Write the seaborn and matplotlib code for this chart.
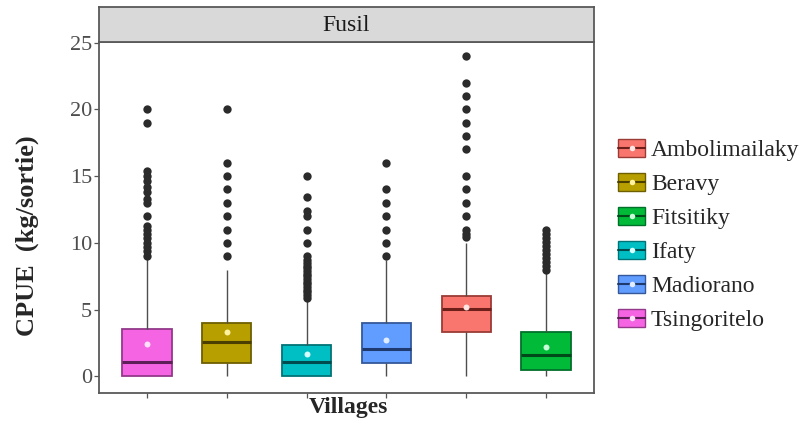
import pandas as pd
import matplotlib.pyplot as plt
import seaborn as sns
from matplotlib.patches import Patch
from matplotlib.lines import Line2D

# Data
villages = ['Tsingoritelo', 'Beravy', 'Ifaty', 'Madiorano', 'Ambolimailaky', 'Fitsitiky']
legend_order = ['Ambolimailaky', 'Beravy', 'Fitsitiky', 'Ifaty', 'Madiorano', 'Tsingoritelo']

# box summaries: lower whisker, Q1, median, Q3, upper whisker
whisk_low = [0, 0, 0, 0, 0, 0]
q1 = [0, 1.0, 0, 1.0, 3.3, 0.5]
median = [1.05, 2.6, 1.1, 2.05, 5.05, 1.63]
q3 = [3.55, 4.0, 2.35, 4.0, 6.0, 3.3]
whisk_high = [8.8, 8.0, 5.8, 8.7, 10.0, 7.8]
means = [2.4, 3.35, 1.7, 2.7, 5.2, 2.2]

out_tsingoritelo = [20, 19, 15.4, 15.0, 14.6, 14.2, 13.8, 13.3, 13.0, 12.0, 11.3, 11.0,
                    10.7, 10.4, 10.0, 9.7, 9.4, 9.0]
out_beravy = [20, 16, 15, 14, 13, 12, 11, 10, 9]
out_ifaty = [15, 13.4, 12.4, 12.0, 11, 10, 9.0, 8.7, 8.5, 8.3, 8.1, 7.9, 7.7, 7.5, 7.3,
             7.1, 6.9, 6.7, 6.5, 6.3, 6.1, 5.9]
out_madiorano = [16, 14, 13, 12, 11, 10, 9]
out_ambolimailaky = [24, 22, 21, 20, 19, 18, 17, 15, 14, 13, 12, 11, 10.7, 10.45]
out_fitsitiky = [11.0, 10.7, 10.4, 10.1, 9.8, 9.5, 9.2, 8.9, 8.6, 8.3, 8.0]

fills = {'Ambolimailaky': '#F8766D', 'Beravy': '#B79F00', 'Fitsitiky': '#00BA38',
         'Ifaty': '#00BFC4', 'Madiorano': '#619CFF', 'Tsingoritelo': '#F564E3'}
edges = {'Ambolimailaky': '#9A3B35', 'Beravy': '#6E5F00', 'Fitsitiky': '#00702A',
         'Ifaty': '#007376', 'Madiorano': '#34589A', 'Tsingoritelo': '#93388A'}
medians_c = {'Ambolimailaky': '#6E1F1A', 'Beravy': '#4A3F00', 'Fitsitiky': '#004A1A',
             'Ifaty': '#004B4D', 'Madiorano': '#1E3A6E', 'Tsingoritelo': '#5E1F58'}
mean_c = {'Ambolimailaky': '#FFE6E2', 'Beravy': '#FFF3A0', 'Fitsitiky': '#C8FFD8',
          'Ifaty': '#D6FFFF', 'Madiorano': '#E0ECFF', 'Tsingoritelo': '#FFE0FA'}

rows = []
for i, v in enumerate(villages):
    for val in [whisk_low[i], q1[i], median[i], q3[i], whisk_high[i]]:
        rows.append({'village': v, 'cpue': val})
box_df = pd.DataFrame(rows)

outs = [out_tsingoritelo, out_beravy, out_ifaty, out_madiorano, out_ambolimailaky, out_fitsitiky]
out_df = pd.DataFrame([{'village': v, 'cpue': y} for v, o in zip(villages, outs) for y in o])
mean_df = pd.DataFrame({'village': villages, 'cpue': means})

sns.set_style('white')
plt.rcParams['font.family'] = ['Liberation Serif', 'DejaVu Serif']

fig = plt.figure(figsize=(8.02, 4.47), dpi=100)
ax = fig.add_axes([99 / 802, 1 - 393 / 447, 495 / 802, 351 / 447])

sns.boxplot(data=box_df, x='village', y='cpue', hue='village', order=villages,
            hue_order=villages, palette=fills, whis=(0, 100), width=0.62,
            showfliers=False, showcaps=False, linewidth=1.2, legend=False,
            saturation=1, ax=ax)

for cont, v in zip(ax.containers, villages):
    for b in cont.boxes:
        b.set_edgecolor(edges[v])
        b.set_linewidth(1.3)
    for m in cont.medians:
        m.set_color(medians_c[v])
        m.set_linewidth(2.2)
    for w in cont.whiskers:
        w.set_color('#4D4D4D')
        w.set_linewidth(1.0)

sns.stripplot(data=out_df, x='village', y='cpue', order=villages, color='#2B2B2B',
              jitter=False, size=6.0, linewidth=0, ax=ax, zorder=4)
sns.stripplot(data=mean_df, x='village', y='cpue', order=villages, hue='village',
              palette=mean_c, jitter=False, size=4.3, linewidth=0, legend=False,
              ax=ax, zorder=5)

ax.set_xlim(-0.6, 5.6)
ax.set_ylim(-1.25, 25.05)
ax.set_yticks([0, 5, 10, 15, 20, 25])
ax.set_xticks(range(len(villages)))
ax.set_xticklabels([])
ax.set_xlabel('')
ax.set_ylabel('')
ax.tick_params(axis='both', bottom=True, left=True, length=3.5, width=0.9,
               color='#555555', direction='out', labelsize=16, labelcolor='#4D4D4D',
               pad=1.5)
for s in ax.spines.values():
    s.set_color('#595959')
    s.set_linewidth(1.3)

# facet strip
strip = fig.add_axes([99 / 802, 1 - 42 / 447, 495 / 802, 35 / 447])
strip.set_facecolor('#D9D9D9')
strip.set_xticks([])
strip.set_yticks([])
for s in strip.spines.values():
    s.set_color('#595959')
    s.set_linewidth(1.3)
strip.text(0.5, 0.48, 'Fusil', ha='center', va='center', fontsize=17, color='#1A1A1A',
           transform=strip.transAxes)

fig.text(27 / 802, 1 - 236 / 447, 'CPUE  (kg/sortie)', rotation=90, ha='center',
         va='center', fontsize=19, fontweight='bold')
fig.text(348 / 802, 1 - 408 / 447, 'Villages', ha='center', va='center', fontsize=17,
         fontweight='bold')

handles = []
for v in legend_order:
    handles.append((Patch(facecolor=fills[v], edgecolor=edges[v], linewidth=1.0),
                    Line2D([], [], color=medians_c[v], linewidth=1.5, marker='o',
                           markersize=4, markerfacecolor=mean_c[v], markeredgewidth=0)))
fig.legend(handles, legend_order, loc='upper left', bbox_to_anchor=(618 / 802, 1 - 139 / 447),
           frameon=False, fontsize=17, handlelength=1.15, handleheight=0.8,
           handletextpad=0.25, labelspacing=0.5, borderpad=0, borderaxespad=0)

fig.savefig('out.png', dpi=100)
